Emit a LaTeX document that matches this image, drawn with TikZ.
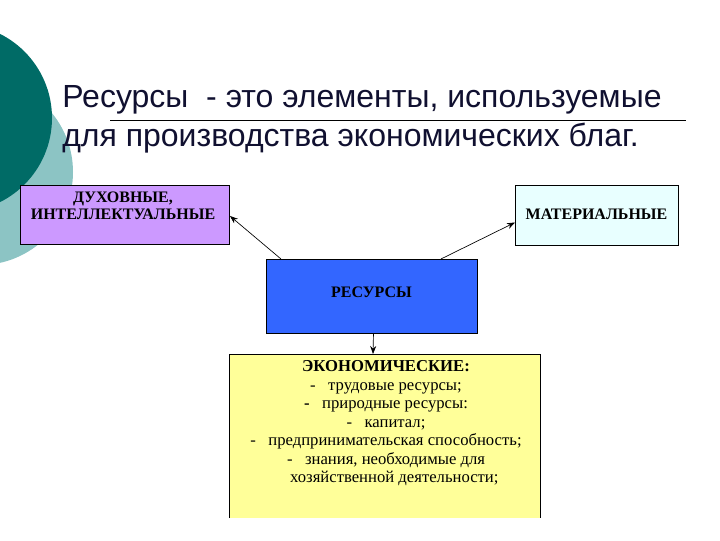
\documentclass[tikz,border=0pt]{standalone}
\usepackage{fontspec}
\usetikzlibrary{arrows.meta}
\setmainfont{Liberation Serif}
\newfontfamily\titlefont{Liberation Sans}
\definecolor{darkteal}{HTML}{006B66}
\definecolor{lightteal}{HTML}{8CC4C4}
\definecolor{navy}{HTML}{101030}
\definecolor{purp}{HTML}{CC99FF}
\definecolor{cyanl}{HTML}{E8FFFF}
\definecolor{blueb}{HTML}{3366FF}
\definecolor{yel}{HTML}{FFFF99}
\begin{document}
\begin{tikzpicture}[x=0.75pt,y=-0.75pt,
  box/.style={draw=black,line width=0.7pt,inner sep=0pt},
  lbl/.style={font=\bfseries\fontsize{12}{13}\selectfont,align=center},
  arr/.style={-{Stealth[length=6pt,width=4.5pt]},line width=0.5pt}]
\useasboundingbox (0,0) rectangle (720,540);
\fill[lightteal] (-20,172) circle (93);
\fill[darkteal] (-42,118) circle (94);
\node[anchor=base west,font=\titlefont\fontsize{24}{26}\selectfont,text=navy,inner sep=0] (t1) at (62,107) {Ресурсы\ \ - это элементы, используемые};
\node[anchor=base west,font=\titlefont\fontsize{24}{26}\selectfont,text=navy,inner sep=0] (t2) at (62,146) {для производства экономических благ.};
\coordinate (la) at (110,120); \coordinate (lb) at (686,120);
\draw[line width=0.6pt] (la) -- (lb);
\node[box,fill=purp,minimum width=209*0.75pt,minimum height=59*0.75pt,anchor=north west] (p) at (20,185) {};
\node[lbl] at (123,206) {ДУХОВНЫЕ,\\ИНТЕЛЛЕКТУАЛЬНЫЕ};
\node[box,fill=cyanl,minimum width=163*0.75pt,minimum height=60*0.75pt,anchor=north west] (g) at (515,185) {};
\node[lbl] at (596.5,214) {МАТЕРИАЛЬНЫЕ};
\node[box,fill=blueb,minimum width=211*0.75pt,minimum height=74*0.75pt,anchor=north west] (b) at (266,259) {};
\node[lbl] at (371.5,292) {РЕСУРСЫ};
\fill[yel] (229,354) rectangle (540,518);
\draw[line width=0.7pt] (229,518) -- (229,354) -- (540,354) -- (540,518);
\node[font=\fontsize{12.5}{13.9}\selectfont,align=center,anchor=north] (y) at (386,356) {\textbf{ЭКОНОМИЧЕСКИЕ:}\\
-\ \ \ трудовые ресурсы;\\
\textbf{-}\ \ \ природные ресурсы:\\
-\ \ \ капитал;\\
-\ \ \ предпринимательская способность;\\
-\ \ \ знания, необходимые для\\
\ \ \ \ хозяйственной деятельности;};
\coordinate (y1) at (373,354);
\draw[arr] ([xshift=15*0.75pt]b.north west) -- ([yshift=-1*0.75pt]p.east);
\draw[arr] ([xshift=-37*0.75pt]b.north east) -- ([yshift=-7*0.75pt]g.west);
\draw[arr] ([xshift=1.5*0.75pt]b.south) -- (y1);
\end{tikzpicture}
\end{document}
